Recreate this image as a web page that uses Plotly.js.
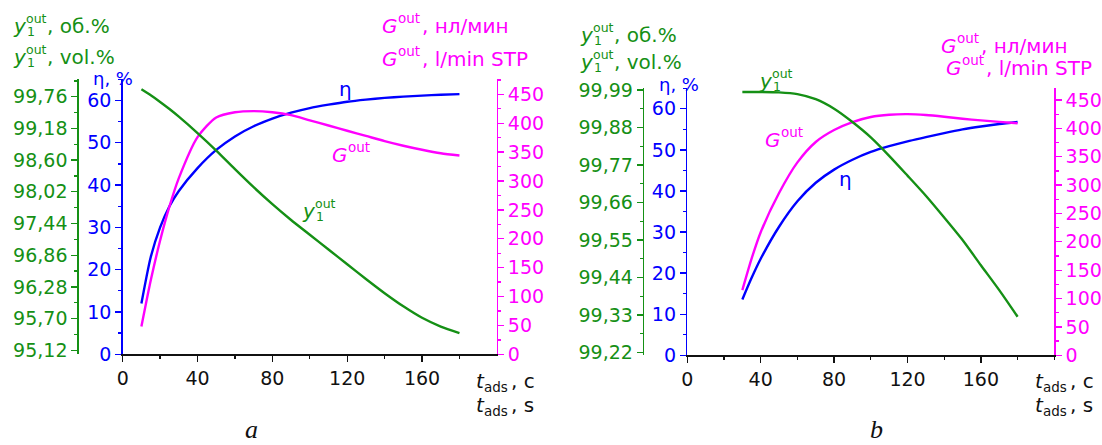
<!DOCTYPE html>
<html><head><meta charset="utf-8">
<script src="https://cdn.plot.ly/plotly-3.0.1.min.js"></script>
<style>html,body{margin:0;padding:0;background:#fff}</style>
</head><body><div id="chart" style="width:1102px;height:445px"></div>
<script>
// ---------- Panel a data ----------
const tA      = [10,15,20,25,30,40,50,60,70,80,90,100,110,120,130,140,150,160,170,180];
const etaA    = [12.0,23.0,30.0,35.0,38.6,44.0,48.3,51.5,53.9,55.7,57.1,58.2,59.0,59.7,60.2,60.6,60.9,61.15,61.35,61.5];
const gA      = [48,128,197,256,305,376,410,419,421,419,414,405,396,387,378,369,361,354,348,344];
const y1A     = [99.895,99.785,99.665,99.535,99.395,99.095,98.775,98.435,98.105,97.795,97.505,97.235,96.965,96.695,96.425,96.165,95.925,95.715,95.555,95.435];
// ---------- Panel b data ----------
const tB      = [30,35,40,50,60,70,80,90,100,110,120,130,140,150,160,170,180];
const etaB    = [13.6,18.8,23.5,31.3,37.5,42.0,45.2,47.6,49.5,50.9,52.1,53.1,54.1,55.0,55.7,56.3,56.8];
const gB      = [115,170,217,286,340,376,397,411,420,424,425,423.5,420.5,417,414,411.5,409];
const y1B     = [99.984,99.984,99.984,99.983,99.978,99.963,99.935,99.896,99.851,99.797,99.739,99.680,99.616,99.550,99.476,99.403,99.325];
// ---------- tick labels ----------
const xTickVals   = [0,40,80,120,160];
const xTickText   = ['0','40','80','120','160'];
const y1TickValsA = [95.12,95.70,96.28,96.86,97.44,98.02,98.60,99.18,99.76];
const y1TickTextA = ['95,12','95,70','96,28','96,86','97,44','98,02','98,60','99,18','99,76'];
const y1TickValsB = [99.22,99.33,99.44,99.55,99.66,99.77,99.88,99.99];
const y1TickTextB = ['99,22','99,33','99,44','99,55','99,66','99,77','99,88','99,99'];

const W = 1102, H = 445;
const GREEN = '#159015', BLUE = '#0000ff', MAG = '#ff00ff', BLACK = '#111111';
const FONT = 'DejaVu Sans';
const TICKFONT = 19;

function line(x, y, color, xa, ya) {
  return {x: x, y: y, type: 'scatter', mode: 'lines', xaxis: xa, yaxis: ya,
          line: {color: color, width: 2.4, shape: 'spline', smoothing: 0.7}, hoverinfo: 'skip'};
}
const data = [
  line(tA, y1A, GREEN, 'x', 'y3'),
  line(tA, gA, MAG, 'x', 'y2'),
  line(tA, etaA, BLUE, 'x', 'y'),
  line(tB, y1B, GREEN, 'x2', 'y6'),
  line(tB, gB, MAG, 'x2', 'y5'),
  line(tB, etaB, BLUE, 'x2', 'y4')
];

function px(p) { return p / W; }
function py(p) { return 1 - p / H; }

const domXA = [px(122.7), px(496.5)];
const domXB = [px(687.3), px(1054.3)];
const domYA = [py(354.3), py(79.3)];
const domYB = [py(355.3), py(88.3)];

function xaxis(domain, range, anchor) {
  return {domain: domain, range: range, anchor: anchor, showline: true, linecolor: BLACK, linewidth: 1.5,
    ticks: 'outside', ticklen: 6, tickwidth: 1.3, tickcolor: BLACK, tickmode: 'array',
    tickvals: xTickVals, ticktext: xTickText, tickfont: {family: FONT, size: TICKFONT, color: BLACK},
    minor: {tickmode: 'linear', tick0: 0, dtick: 20, ticklen: 3, tickwidth: 1.3, tickcolor: BLACK, ticks: 'outside'},
    showgrid: false, zeroline: false, fixedrange: true};
}
function yaxis(opts, color) {
  const base = {showline: true, linecolor: color, linewidth: 1.5, ticks: 'outside', ticklen: 6, tickwidth: 1.3,
    tickcolor: color, tickfont: {family: FONT, size: TICKFONT, color: color},
    showgrid: false, zeroline: false, fixedrange: true};
  return Object.assign(base, opts);
}

const layout = {
  width: W, height: H, autosize: false,
  margin: {l: 0, r: 0, t: 0, b: 0, pad: 0},
  paper_bgcolor: '#ffffff', plot_bgcolor: '#ffffff',
  showlegend: false,
  xaxis: xaxis(domXA, [0, 199.8], 'y'),
  xaxis2: xaxis(domXB, [0, 200], 'y4'),
  yaxis: yaxis({domain: domYA, range: [0, 65], anchor: 'x', side: 'left', tickmode: 'linear', tick0: 0, dtick: 10,
    minor: {tickmode: 'linear', tick0: 0, dtick: 5, ticklen: 3, tickwidth: 1.3, tickcolor: BLUE, ticks: 'outside'}}, BLUE),
  yaxis2: yaxis({domain: domYA, range: [0, 476], overlaying: 'y', anchor: 'x', side: 'right', tickmode: 'linear', tick0: 0, dtick: 50,
    minor: {tickmode: 'linear', tick0: 0, dtick: 25, ticklen: 3, tickwidth: 1.3, tickcolor: MAG, ticks: 'outside'}}, MAG),
  yaxis3: yaxis({domain: domYA, range: [95.047, 100.079], overlaying: 'y', anchor: 'free', position: px(77.3), side: 'left',
    tickmode: 'array', tickvals: y1TickValsA, ticktext: y1TickTextA,
    minor: {tickmode: 'linear', tick0: 95.41, dtick: 0.58, ticklen: 3, tickwidth: 1.3, tickcolor: GREEN, ticks: 'outside'}}, GREEN),
  yaxis4: yaxis({domain: domYB, range: [0, 65], anchor: 'x2', side: 'left', tickmode: 'linear', tick0: 0, dtick: 10,
    minor: {tickmode: 'linear', tick0: 0, dtick: 5, ticklen: 3, tickwidth: 1.3, tickcolor: BLUE, ticks: 'outside'}}, BLUE),
  yaxis5: yaxis({domain: domYB, range: [0, 470.6], overlaying: 'y4', anchor: 'x2', side: 'right', tickmode: 'linear', tick0: 0, dtick: 50,
    minor: {tickmode: 'linear', tick0: 0, dtick: 25, ticklen: 3, tickwidth: 1.3, tickcolor: MAG, ticks: 'outside'}}, MAG),
  yaxis6: yaxis({domain: domYB, range: [99.212, 99.995], overlaying: 'y4', anchor: 'free', position: px(642.7), side: 'left',
    tickmode: 'array', tickvals: y1TickValsB, ticktext: y1TickTextB,
    minor: {tickmode: 'linear', tick0: 99.275, dtick: 0.11, ticklen: 3, tickwidth: 1.3, tickcolor: GREEN, ticks: 'outside'}}, GREEN),
  annotations: []
};

const ann = layout.annotations;
function piece(text, x, baseline, size, color, family) {
  ann.push({xref: 'paper', yref: 'paper', x: px(x), y: py(baseline - 0.346 * size),
    xanchor: 'left', yanchor: 'middle', showarrow: false, text: text,
    borderpad: 0, borderwidth: 0,
    font: {family: family || FONT, size: size, color: color}});
}
function yOut(x, b, color, rest) {
  piece('<i>y</i>', x, b, 20, color);
  piece('out', x + 12.5, b - 10, 12.5, color);
  piece('1', x + 13.5, b + 3, 12.5, color);
  if (rest) piece(rest, x + 34, b, 20, color);
}
function gOut(x, b, color, rest) {
  piece('<i>G</i>', x, b, 20, color);
  piece('out', x + 16, b - 10, 13.5, color);
  if (rest) piece(rest, x + 39.5, b, 20, color);
}
function tAds(x, b, rest) {
  piece('<i>t</i>', x, b, 20, BLACK);
  piece('ads', x + 8, b + 4, 13.5, BLACK);
  piece(rest, x + 35, b, 20, BLACK);
}

// panel a titles
yOut(13, 33, GREEN, ', об.%');
yOut(13, 63.5, GREEN, ', vol.%');
piece('η, %', 93, 85, 18, BLUE);
gOut(382, 33, MAG, ', нл/мин');
gOut(382, 65.5, MAG, ', l/min STP');
tAds(476, 388, ', c');
tAds(476, 412, ', s');
// panel a curve labels
piece('η', 339, 96, 20, BLUE);
gOut(332, 162, MAG, null);
yOut(302, 218, GREEN, null);

// panel b titles
yOut(580, 42, GREEN, ', об.%');
yOut(580, 68.5, GREEN, ', vol.%');
piece('η, %', 659, 91, 18, BLUE);
gOut(941, 53, MAG, ', нл/мин');
gOut(946, 74.5, MAG, ', l/min STP');
tAds(1035, 388, ', c');
tAds(1035, 412, ', s');
// panel b curve labels
yOut(759, 88, GREEN, null);
gOut(765, 147, MAG, null);
piece('η', 839, 186, 20, BLUE);

// panel captions
piece('<i>a</i>', 245, 438, 26, BLACK, 'Liberation Serif');
piece('<i>b</i>', 870, 438, 26, BLACK, 'Liberation Serif');

Plotly.newPlot('chart', data, layout, {staticPlot: true, displayModeBar: false});
</script>
</body></html>
